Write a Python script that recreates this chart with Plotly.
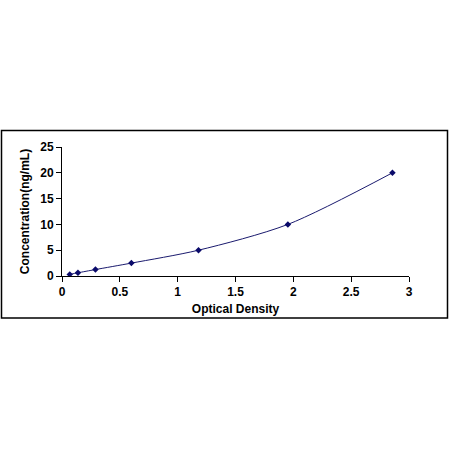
import plotly.graph_objects as go

od = [0.067, 0.138, 0.289, 0.60, 1.18, 1.953, 2.857]
conc = [0.312, 0.625, 1.25, 2.5, 5, 10, 20]
x_ticks = [0, 0.5, 1, 1.5, 2, 2.5, 3]
x_tick_text = ["0", "0.5", "1", "1.5", "2", "2.5", "3"]
y_ticks = [0, 5, 10, 15, 20, 25]

L, R, T, B = 62, 409, 147, 276
W = H = 450

fig = go.Figure()
fig.add_trace(go.Scatter(
    x=od, y=conc, mode="lines+markers",
    line=dict(color="#1a1a6e", width=1, shape="spline", smoothing=0.8),
    marker=dict(symbol="diamond", size=5, color="#0a0a6a"),
    showlegend=False,
))

tf = dict(family="Liberation Sans, Arial, sans-serif", size=12, color="black", weight="bold")
fig.update_layout(
    width=W, height=H,
    margin=dict(l=L, r=W - R, t=T, b=H - B, pad=0),
    paper_bgcolor="white", plot_bgcolor="white",
    xaxis=dict(range=[0, 3], tickvals=x_ticks, ticktext=x_tick_text,
               showgrid=False, zeroline=False, showline=True, linecolor="black", linewidth=1,
               ticks="outside", ticklen=5, tickcolor="black",
               tickfont=tf,
               title=dict(text="Optical Density", standoff=6, font=tf)),
    yaxis=dict(range=[0, 25], tickvals=y_ticks,
               showgrid=False, zeroline=False, showline=True, linecolor="black", linewidth=1,
               ticks="outside", ticklen=5, tickcolor="black",
               tickfont=tf,
               title=dict(text="Concentration(ng/mL)", standoff=8, font=tf)),
)

pw, ph = R - L, B - T
fig.add_shape(type="rect", xref="paper", yref="paper",
              x0=(1.5 - L) / pw, x1=(447.5 - L) / pw,
              y0=(B - 318) / ph, y1=(B - 130.5) / ph,
              line=dict(color="black", width=1.5), layer="below")

fig.write_html("out.html", config={"displayModeBar": False},
               post_script="document.body.style.margin='0';")
